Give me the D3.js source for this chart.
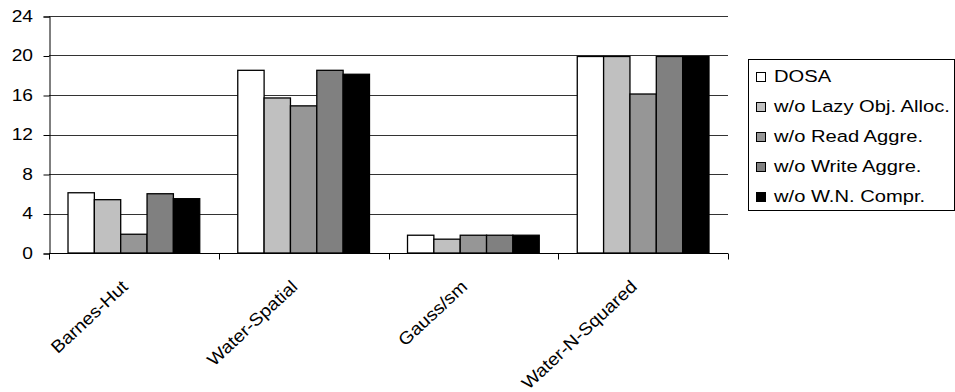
<!DOCTYPE html>
<html>
<head>
<meta charset="utf-8">
<script src="https://cdn.jsdelivr.net/npm/d3@7"></script>
<style>
  html, body { margin: 0; padding: 0; background: #fff; }
  svg { display: block; font-family: "Liberation Sans", Arial, sans-serif; }
</style>
</head>
<body>
<svg id="chart" width="955" height="392"></svg>
<script>
const categories = ["Barnes-Hut", "Water-Spatial", "Gauss/sm", "Water-N-Squared"];
const seriesNames = ["DOSA", "w/o Lazy Obj. Alloc.", "w/o Read Aggre.", "w/o Write Aggre.", "w/o W.N. Compr."];
const seriesColors = ["#ffffff", "#c0c0c0", "#969696", "#808080", "#000000"];
const dosa       = [6.1, 18.5, 1.8, 19.9];
const noLazy     = [5.4, 15.7, 1.4, 19.9];
const noRead     = [1.9, 14.9, 1.8, 16.1];
const noWrite    = [6.0, 18.5, 1.8, 19.9];
const noWNCompr  = [5.5, 18.1, 1.8, 19.9];
const seriesValues = [dosa, noLazy, noRead, noWrite, noWNCompr];
const yTicks = [0, 4, 8, 12, 16, 20, 24];

(function () {
const SX = 1.2; // horizontal stretch of the original rendering
const svg = d3.select("#chart");
const pLeft = 49, pRight = 728, pTop = 16, pBottom = 253;

const x0 = d3.scaleBand().domain(categories).range([pLeft, pRight]).padding(0);
const gap = x0.bandwidth() * 0.112;
const x1 = d3.scaleBand().domain(d3.range(seriesNames.length)).range([gap, x0.bandwidth() - gap]).padding(0);
const y = d3.scaleLinear().domain([0, 24]).range([pBottom, pTop]);

// gridlines
svg.append("g").selectAll("line").data(yTicks.filter(t => t > 0)).join("line")
  .attr("x1", pLeft).attr("x2", pRight)
  .attr("y1", d => Math.round(y(d)) + 0.5).attr("y2", d => Math.round(y(d)) + 0.5)
  .attr("stroke", "#333").attr("stroke-width", 1);

// y axis
const yAxis = d3.axisLeft(y).tickValues(yTicks).tickSize(6).tickFormat(d3.format("d"));
const gy = svg.append("g").attr("transform", `translate(${pLeft + 0.5},0.5)`).call(yAxis);
gy.select(".domain").attr("stroke", "#000");
gy.selectAll(".tick line").attr("stroke", "#000");
gy.selectAll(".tick text").remove();
svg.append("g").selectAll("text").data(yTicks).join("text")
  .attr("transform", d => `translate(33,${y(d) + 5.5}) scale(${SX},1)`)
  .attr("text-anchor", "end").attr("font-size", 16).attr("fill", "#000")
  .text(d => d);

// bars
const groups = svg.append("g").selectAll("g").data(categories).join("g")
  .attr("transform", d => `translate(${x0(d)},0)`);
groups.selectAll("rect").data((c, ci) => seriesValues.map((vals, si) => ({si, v: vals[ci]}))).join("rect")
  .attr("x", d => x1(d.si))
  .attr("width", x1.bandwidth())
  .attr("y", d => y(d.v))
  .attr("height", d => y(0) - y(d.v))
  .attr("fill", d => seriesColors[d.si])
  .attr("stroke", "#000").attr("stroke-width", 1.3);

// x axis
const xAxis = d3.axisBottom(x0).tickSize(6).tickFormat("");
const gx = svg.append("g").attr("transform", `translate(0,${pBottom + 0.5})`).call(xAxis);
gx.select(".domain").attr("stroke", "#000").attr("d", `M${pLeft},0H${pRight}`);
gx.selectAll(".tick").remove();
const boundaries = categories.map(c => x0(c)).concat([pRight]);
gx.selectAll(".bnd").data(boundaries).join("line").attr("class", "bnd")
  .attr("x1", d => Math.round(d) + 0.5).attr("x2", d => Math.round(d) + 0.5)
  .attr("y1", 0).attr("y2", 6).attr("stroke", "#000");

// category labels
svg.append("g").selectAll("text").data(categories).join("text")
  .attr("transform", d => `translate(${x0(d) + x0.bandwidth() / 2 - 5},288) rotate(-43) scale(1.1,1)`)
  .attr("text-anchor", "end").attr("font-size", 17.5).attr("fill", "#000")
  .text(d => d);

// legend
const lg = svg.append("g");
lg.append("rect").attr("x", 748.5).attr("y", 59.5).attr("width", 206).attr("height", 151)
  .attr("fill", "#fff").attr("stroke", "#000").attr("stroke-width", 1);
const items = lg.selectAll("g.item").data(seriesNames).join("g").attr("class", "item")
  .attr("transform", (d, i) => `translate(0,${82 + i * 30})`);
items.append("rect").attr("x", 756.5).attr("y", -9.5).attr("width", 9).attr("height", 9)
  .attr("fill", (d, i) => seriesColors[i]).attr("stroke", "#000").attr("stroke-width", 1);
items.append("text").attr("transform", `translate(774,0) scale(${SX},1)`)
  .attr("font-size", 16.8).attr("fill", "#000").text(d => d);
})();
</script>
</body>
</html>
